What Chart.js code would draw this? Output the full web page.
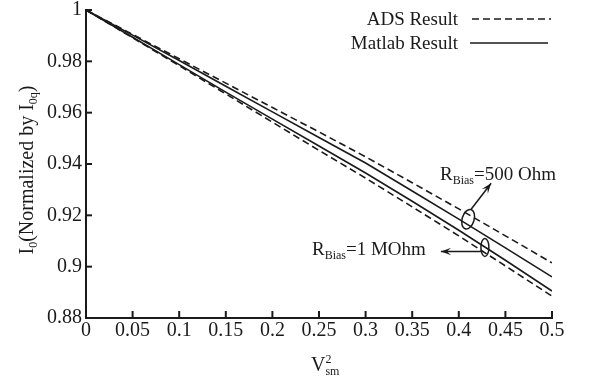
<!DOCTYPE html>
<html>
<head>
<meta charset="utf-8">
<script src="https://cdn.jsdelivr.net/npm/chart.js@4"></script>
<style>body{margin:0;background:#fff}</style>
</head>
<body>
<canvas id="ivChart" width="593" height="380"></canvas>
<script>
// V_sm^2 sample points and normalized I0
const vsm2      = [0, 0.05, 0.1, 0.15, 0.2, 0.25, 0.3, 0.35, 0.4, 0.45, 0.5];
const ads500    = [1, 0.9905, 0.981, 0.9715, 0.962, 0.9525, 0.9428, 0.9327, 0.9225, 0.912, 0.9015];
const matlab500 = [1, 0.9902, 0.9803, 0.9703, 0.9603, 0.9503, 0.9404, 0.9295, 0.9185, 0.9073, 0.896];
const matlab1M  = [1, 0.9894, 0.9787, 0.968, 0.9575, 0.947, 0.9365, 0.9255, 0.9142, 0.9025, 0.8905];
const ads1M     = [1, 0.9892, 0.9783, 0.9673, 0.9563, 0.9453, 0.9345, 0.9233, 0.912, 0.9003, 0.8885];

const FONT = '"Liberation Serif", "DejaVu Serif", serif';
const INK = '#1a1a1a';

function pts(ys) { return vsm2.map((x, i) => ({ x: x, y: ys[i] })); }

// draws text with sub/superscript pieces
function richText(ctx, parts, x, y, size, align) {
    let total = 0;
    parts.forEach(p => {
        ctx.font = (p[1] ? Math.round(size * 0.62) : size) + 'px ' + FONT;
        p.w = ctx.measureText(p[0]).width;
        total += p[1] === 'sup' ? 0 : p.w;
    });
    let cx = align === 'center' ? x - total / 2 : align === 'right' ? x - total : x;
    parts.forEach(p => {
        ctx.font = (p[1] ? Math.round(size * 0.62) : size) + 'px ' + FONT;
        if (p[1] === 'sub') { ctx.fillText(p[0], cx, y + size * 0.22); cx += p.w; }
        else if (p[1] === 'sup') { ctx.fillText(p[0], cx, y - size * 0.42); }
        else { ctx.fillText(p[0], cx, y); cx += p.w; }
    });
}

function arrow(ctx, x1, y1, x2, y2) {
    const a = Math.atan2(y2 - y1, x2 - x1);
    ctx.beginPath();
    ctx.moveTo(x1, y1);
    ctx.lineTo(x2, y2);
    ctx.stroke();
    ctx.beginPath();
    ctx.moveTo(x2, y2);
    ctx.lineTo(x2 - 11 * Math.cos(a - 0.35), y2 - 11 * Math.sin(a - 0.35));
    ctx.lineTo(x2 - 6 * Math.cos(a), y2 - 6 * Math.sin(a));
    ctx.lineTo(x2 - 11 * Math.cos(a + 0.35), y2 - 11 * Math.sin(a + 0.35));
    ctx.closePath();
    ctx.fill();
}

const decorations = {
    id: 'decorations',
    afterDraw(chart) {
        const ctx = chart.ctx;
        const xs = chart.scales.x, ys = chart.scales.y;
        const area = chart.chartArea;
        ctx.save();
        ctx.strokeStyle = INK;
        ctx.fillStyle = INK;

        // inward tick marks
        ctx.lineWidth = 2;
        ys.ticks.forEach(t => {
            const py = ys.getPixelForValue(t.value);
            ctx.beginPath(); ctx.moveTo(area.left, py); ctx.lineTo(area.left + 6, py); ctx.stroke();
        });
        xs.ticks.forEach(t => {
            const px = xs.getPixelForValue(t.value);
            ctx.beginPath(); ctx.moveTo(px, area.bottom); ctx.lineTo(px, area.bottom - 7); ctx.stroke();
        });

        // legend
        ctx.textBaseline = 'alphabetic';
        ctx.font = '19px ' + FONT;
        ctx.textAlign = 'right';
        ctx.fillText('ADS Result', 458, 25);
        ctx.fillText('Matlab Result', 458, 49);
        ctx.textAlign = 'left';
        ctx.lineWidth = 1.6;
        ctx.setLineDash([7, 4]);
        ctx.beginPath(); ctx.moveTo(472, 19); ctx.lineTo(551, 19); ctx.stroke();
        ctx.setLineDash([]);
        ctx.beginPath(); ctx.moveTo(470, 43); ctx.lineTo(548, 43); ctx.stroke();

        // annotations
        ctx.lineWidth = 1.5;
        const e1x = xs.getPixelForValue(0.41), e1y = ys.getPixelForValue(0.9185);
        ctx.beginPath(); ctx.ellipse(e1x, e1y, 6, 10, 0.3, 0, Math.PI * 2); ctx.stroke();
        arrow(ctx, e1x + 3, e1y - 10, e1x + 23, e1y - 36);
        richText(ctx, [['R'], ['Bias', 'sub'], ['=500 Ohm']], 440, 180, 19, 'left');

        const e2x = xs.getPixelForValue(0.428), e2y = ys.getPixelForValue(0.9075);
        ctx.beginPath(); ctx.ellipse(e2x, e2y, 4, 9, 0, 0, Math.PI * 2); ctx.stroke();
        arrow(ctx, e2x - 4, e2y + 4, e2x - 44, e2y + 4);
        richText(ctx, [['R'], ['Bias', 'sub'], ['=1 MOhm']], 312, 255, 19, 'left');

        // axis titles
        richText(ctx, [['V'], ['2', 'sup'], ['sm', 'sub']], xs.getPixelForValue(0.25) - 8, 371, 20, 'left');
        ctx.translate(33, 170);
        ctx.rotate(-Math.PI / 2);
        richText(ctx, [['I'], ['0', 'sub'], ['(Normalized by I'], ['0q', 'sub'], [')']], 0, 0, 20, 'center');
        ctx.restore();
    }
};

const line = (ys, dashed) => ({
    data: pts(ys),
    borderColor: INK,
    borderWidth: 1.6,
    borderDash: dashed ? [7, 4] : [],
    pointRadius: 0,
    fill: false,
    tension: 0
});

new Chart(document.getElementById('ivChart').getContext('2d'), {
    type: 'line',
    data: {
        datasets: [line(ads500, true), line(matlab500, false), line(matlab1M, false), line(ads1M, true)]
    },
    options: {
        responsive: false,
        animation: false,
        layout: { padding: { top: 10, right: 41, left: 0, bottom: 0 } },
        scales: {
            x: {
                type: 'linear', min: 0, max: 0.5,
                ticks: { stepSize: 0.05, color: INK, padding: 1, maxRotation: 0,
                         font: { family: FONT, size: 20 }, callback: v => String(+v.toFixed(2)) },
                grid: { display: false, drawTicks: false },
                border: { color: INK, width: 2 },
                afterFit: s => { s.height = 62; s.paddingLeft = 0; s.paddingRight = 0; }
            },
            y: {
                min: 0.88, max: 1,
                ticks: { stepSize: 0.02, color: INK, padding: 4,
                         font: { family: FONT, size: 20 }, callback: v => String(+v.toFixed(2)) },
                grid: { display: false, drawTicks: false },
                border: { color: INK, width: 2 },
                afterFit: s => { s.width = 86; s.paddingTop = 0; s.paddingBottom = 0; }
            }
        },
        plugins: { legend: { display: false }, tooltip: { enabled: false } }
    },
    plugins: [decorations]
});
</script>
</body>
</html>
